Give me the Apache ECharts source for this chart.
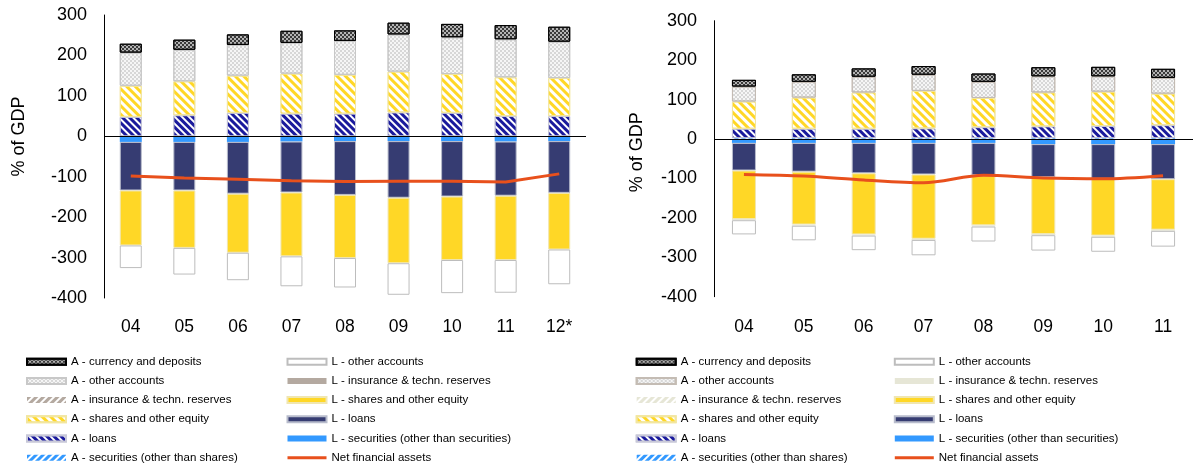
<!DOCTYPE html>
<html>
<head>
<meta charset="utf-8">
<script src="https://cdn.jsdelivr.net/npm/echarts@6/dist/echarts.min.js"></script>
<style>
  html, body { margin: 0; padding: 0; background: #fff; }
  #left { position: absolute; left: 0; top: 0; width: 597px; height: 468px; }
  #right { position: absolute; left: 597px; top: 0; width: 598px; height: 468px; }
</style>
</head>
<body>
<div id="left"></div>
<div id="right"></div>
<script>
// ---- data (% of GDP) ----
var yearsL = ['04', '05', '06', '07', '08', '09', '10', '11', '12*'];
var yearsR = ['04', '05', '06', '07', '08', '09', '10', '11'];
var yTicks = [-400, -300, -200, -100, 0, 100, 200, 300];

// left chart, assets
var aSecL = [0, 0, 0, 0, 0, 0, 0, 0, 0];
var aLoansL = [48, 52, 58, 56, 56, 59, 58, 50, 50];
var aSharesL = [77, 84, 92, 99, 96, 101, 96, 96, 94];
var aInsL = [0, 0, 0, 0, 0, 0, 0, 0, 0];
var aOtherL = [82, 78, 76, 76, 84, 92, 91, 94, 90];
var aCurrL = [22, 25, 26, 30, 26, 29, 33, 35, 37];
// left chart, liabilities
var lSecL = [-14, -14, -14, -13, -12, -12, -12, -13, -12];
var lLoansL = [-120, -120, -128, -126, -133, -140, -137, -134, -128];
var lSharesL = [-136, -142, -146, -158, -156, -162, -157, -159, -140];
var lInsL = [0, 0, 0, 0, 0, 0, 0, 0, 0];
var lOtherL = [-56, -66, -68, -74, -73, -78, -82, -81, -86];
var nfaL = [-98, -103, -106, -110, -112, -111, -111, -113, -93];

// right chart, assets
var aSecR = [2, 2, 2, 2, 2, 2, 2, 2];
var aLoansR = [24, 24, 24, 25, 28, 30, 31, 33];
var aSharesR = [69, 79, 92, 95, 74, 86, 87, 80];
var aInsR = [0, 0, 0, 0, 0, 0, 0, 0];
var aOtherR = [38, 40, 40, 41, 41, 41, 39, 40];
var aCurrR = [17, 19, 21, 22, 21, 23, 24, 23];
// right chart, liabilities
var lSecR = [-10, -10, -10, -10, -10, -13, -13, -13];
var lLoansR = [-70, -73, -77, -80, -82, -84, -88, -89];
var lSharesR = [-123, -134, -155, -163, -127, -144, -144, -128];
var lInsR = [-3, -3, -3, -3, -3, -3, -3, -3];
var lOtherR = [-36, -37, -37, -39, -38, -39, -38, -40];
var nfaR = [-90, -94, -104, -111, -92, -99, -101, -93];

var FONT = 'Liberation Sans, Arial, sans-serif';

function stripes(color, rot, on, off) {
  return { symbol: 'rect', symbolSize: 1, color: color, dashArrayX: [1, 0], dashArrayY: [on, off], rotation: rot };
}
var checker = { symbol: 'rect', symbolSize: 1, color: '#3a3a3a', dashArrayX: [[1.5, 1.5], [0, 1.5, 1.5, 0]], dashArrayY: [1.5, 0] };
var dots = { symbol: 'circle', symbolSize: 0.7, color: '#a0a0a0', dashArrayX: [[2, 2], [0, 2, 2, 0]], dashArrayY: [2, 0] };

function makeOption(cfg) {
  var bw = cfg.barWidth;
  function bar(name, data, style) {
    return { name: name, type: 'bar', stack: 'all', barWidth: bw, data: data, itemStyle: style };
  }
  var series = [
    bar('A - securities (other than shares)', cfg.aSec, { color: '#fff', decal: stripes('#3399ff', -Math.PI / 4, 2.5, 2) }),
    bar('A - loans', cfg.aLoans, { color: '#fff', decal: stripes('#1a1a9c', Math.PI / 4, 2.8, 2), borderColor: '#c8c8d8', borderWidth: 1 }),
    bar('A - shares and other equity', cfg.aShares, { color: '#fff', decal: stripes('#ffd726', Math.PI / 4, 2.6, 2.2), borderColor: '#f2e6a0', borderWidth: 1 }),
    bar('A - insurance & techn. reserves', cfg.aIns, { color: '#fff', decal: stripes(cfg.insColor, -Math.PI / 4, 2.5, 2) }),
    bar('A - other accounts', cfg.aOther, { color: '#f6f6f6', decal: dots, borderColor: cfg.otherBorder, borderWidth: 1 }),
    bar('A - currency and deposits', cfg.aCurr, { color: '#b4b4b4', decal: checker, borderColor: '#000', borderWidth: 1 }),
    bar('L - securities (other than securities)', cfg.lSec, { color: '#3399ff' }),
    bar('L - loans', cfg.lLoans, { color: '#363c72', borderColor: '#b8bccc', borderWidth: 1 }),
    bar('L - shares and other equity', cfg.lShares, { color: '#ffd726', borderColor: '#f0e6b0', borderWidth: 1 }),
    bar('L - insurance & techn. reserves', cfg.lIns, { color: cfg.lInsColor }),
    bar('L - other accounts', cfg.lOther, { color: '#fff', borderColor: '#bdbdbd', borderWidth: 1 }),
    {
      name: 'Net financial assets', type: 'line', data: cfg.nfa, symbol: 'none', smooth: cfg.smooth,
      lineStyle: { color: '#e8501c', width: 3 }, itemStyle: { color: '#e8501c' }, z: 5,
      markLine: {
        silent: true, symbol: 'none', label: { show: false },
        lineStyle: { color: '#000', width: 1, type: 'solid' },
        data: [{ yAxis: 0 }]
      }
    }
  ];
  var legText = { fontFamily: FONT, fontSize: 11.5, color: '#000', lineHeight: 14 };
  function legend(left, names) {
    return {
      orient: 'vertical', left: left, top: 354.7, padding: 0, itemWidth: 39, itemHeight: 6, itemGap: 5.2,
      textStyle: legText,
      data: names.map(function (n) {
        if (n === 'Net financial assets') {
          return { name: n, itemStyle: { opacity: 0 }, lineStyle: { width: 3, color: '#e8501c' } };
        }
        return { name: n, icon: 'rect' };
      })
    };
  }
  return {
    animation: false,
    textStyle: { fontFamily: FONT },
    grid: { left: cfg.gridLeft, right: cfg.gridRight, top: cfg.gridTop, height: cfg.gridHeight },
    legend: [
      legend(cfg.legLeft1, ['A - currency and deposits', 'A - other accounts', 'A - insurance & techn. reserves',
        'A - shares and other equity', 'A - loans', 'A - securities (other than shares)']),
      legend(cfg.legLeft2, ['L - other accounts', 'L - insurance & techn. reserves', 'L - shares and other equity',
        'L - loans', 'L - securities (other than securities)', 'Net financial assets'])
    ],
    xAxis: {
      type: 'category', data: cfg.years,
      axisLine: { show: false }, axisTick: { show: false },
      axisLabel: { fontFamily: FONT, fontSize: 17.5, color: '#000', margin: cfg.xMargin }
    },
    yAxis: {
      type: 'value', min: yTicks[0], max: yTicks[yTicks.length - 1], interval: 100,
      name: '% of GDP', nameLocation: 'middle', nameGap: cfg.nameGap,
      nameTextStyle: { fontFamily: FONT, fontSize: 18, color: '#000', padding: [0, 0, 0, cfg.namePad] },
      axisLine: { show: true, lineStyle: { color: '#000', width: 1 } },
      axisTick: { show: false }, splitLine: { show: false },
      axisLabel: { fontFamily: FONT, fontSize: 18, color: '#000', margin: 17 }
    },
    series: series
  };
}

var chartL = echarts.init(document.getElementById('left'));
chartL.setOption(makeOption({
  years: yearsL, barWidth: 22, gridLeft: 104, gridRight: 11, gridTop: 15, gridHeight: 283,
  nameGap: 76, namePad: 40, legLeft1: 26, legLeft2: 286, smooth: false, xMargin: 20,
  insColor: '#b4a9a0', lInsColor: '#b4a9a0', otherBorder: '#c8c8c8',
  aSec: aSecL, aLoans: aLoansL, aShares: aSharesL, aIns: aInsL, aOther: aOtherL, aCurr: aCurrL,
  lSec: lSecL, lLoans: lLoansL, lShares: lSharesL, lIns: lInsL, lOther: lOtherL, nfa: nfaL
}));

var chartR = echarts.init(document.getElementById('right'));
chartR.setOption(makeOption({
  years: yearsR, barWidth: 24, gridLeft: 117, gridRight: 2, gridTop: 20.7, gridHeight: 276,
  nameGap: 68, namePad: 13, legLeft1: 38.7, legLeft2: 296.3, smooth: 0.3, xMargin: 21,
  insColor: '#e6e6d6', lInsColor: '#e6e6d6', otherBorder: '#c4bcb4',
  aSec: aSecR, aLoans: aLoansR, aShares: aSharesR, aIns: aInsR, aOther: aOtherR, aCurr: aCurrR,
  lSec: lSecR, lLoans: lLoansR, lShares: lSharesR, lIns: lInsR, lOther: lOtherR, nfa: nfaR
}));
</script>
</body>
</html>
